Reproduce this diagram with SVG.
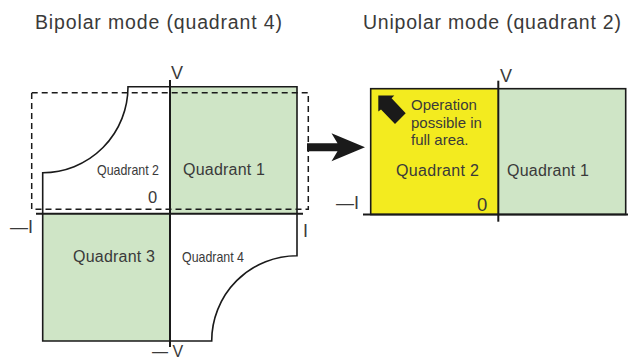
<svg xmlns="http://www.w3.org/2000/svg" width="628" height="361" viewBox="0 0 628 361">
<style>
text{font-family:"Liberation Sans",Arial,Helvetica,sans-serif;fill:#3a3a3a;}
.title{font-size:19.5px;}
.q{font-size:16px;}
.qs{font-size:15px;}
.ax{font-size:18px;}
.axis{stroke:#1a1a1a;stroke-width:2;fill:none;}
.outline{stroke:#1a1a1a;stroke-width:1.6;fill:none;}
.green{fill:#cfe5c6;}
.yellow{fill:#f3eb1f;}
.dash{stroke:#1a1a1a;stroke-width:1.5;fill:none;stroke-dasharray:6 4;}
</style>
<rect width="628" height="361" fill="#fff"/>
<g id="bipolar-title"><text class="title" x="35" y="29" textLength="247" lengthAdjust="spacing">Bipolar mode (quadrant 4)</text></g>
<g id="unipolar-title"><text class="title" x="363" y="29" textLength="258" lengthAdjust="spacing">Unipolar mode (quadrant 2)</text></g>

<g id="bipolar-diagram">
  <g id="bp-q1"><rect class="green" x="170" y="86.7" width="127" height="127"/><text class="q" x="183" y="175" textLength="82">Quadrant 1</text></g>
  <g id="bp-q3"><rect class="green" x="42.7" y="213.7" width="127.3" height="127.3"/><text class="q" x="73" y="262" textLength="82">Quadrant 3</text></g>
  <g id="bp-q2"><text class="qs" x="97" y="175" textLength="62" lengthAdjust="spacingAndGlyphs">Quadrant 2</text></g>
  <g id="bp-q4"><text class="qs" x="182" y="262" textLength="62" lengthAdjust="spacingAndGlyphs">Quadrant 4</text></g>
  <path class="outline" d="M128,86.7 H297 V255.7 A85.3,85.3 0 0 0 211.7,341 H42.7 V172.7 A85.3,86 0 0 0 128,86.7 Z"/>
  <rect class="dash" x="31.7" y="92.7" width="276.6" height="116.6"/>
  <line class="axis" x1="36" y1="213.7" x2="303" y2="213.7"/>
  <line class="axis" x1="170" y1="80" x2="170" y2="347"/>
  <text class="ax" x="171" y="79">V</text>
  <text class="ax" x="148" y="203.3" style="font-size:16.5px">0</text>
  <text class="ax" x="10" y="233">—I</text>
  <text class="ax" x="303" y="236.5">I</text>
  <text class="ax" x="152" y="357" style="font-size:16px">— V</text>
</g>

<g id="unipolar-diagram">
  <g id="up-q2">
    <rect class="yellow" x="370.7" y="88.7" width="127.6" height="125.8"/>
    <polygon fill="#1a1a1a" points="378.3,95.5 394.3,95.5 391.6,98.2 405.7,113.3 395,124 381,109.4 378.3,111.5"/>
    <text style="font-size:15px" x="411" y="110">Operation</text>
    <text style="font-size:15px" x="411" y="127.5">possible in</text>
    <text style="font-size:15px" x="411" y="144.7">full area.</text>
    <text class="q" x="396" y="176" textLength="83">Quadrant 2</text>
  </g>
  <g id="up-q1"><rect class="green" x="498.3" y="88.7" width="127.4" height="125.8"/><text class="q" x="507" y="176" textLength="82">Quadrant 1</text></g>
  <rect class="outline" x="370.7" y="88.7" width="255" height="125.8"/>
  <line class="axis" x1="363" y1="214.6" x2="628" y2="214.6"/>
  <line class="axis" x1="498.3" y1="80.7" x2="498.3" y2="221.7"/>
  <text class="ax" x="500" y="82">V</text>
  <text class="ax" x="477" y="210.7" style="font-size:18.5px">0</text>
  <text class="ax" x="336" y="209.3">—I</text>
</g>

<g id="connectors">
  <polygon fill="#1a1a1a" points="307,143.2 337.5,143.2 331.5,133.3 365,147.3 331.5,161.3 337.5,151.2 307,151.2"/>
</g>
</svg>
